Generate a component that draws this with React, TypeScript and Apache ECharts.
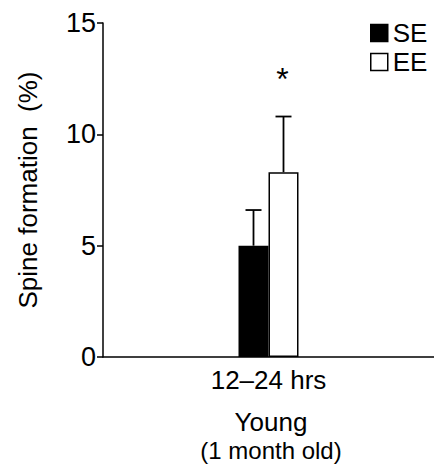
import React, { useEffect, useRef } from "react";
import * as echarts from "echarts";

const categories = ["12–24 hrs"];
const seriesNames = ["SE", "EE"];
const seValues = [5.0];
const eeValues = [8.3];
const seErrors = [6.6];
const eeErrors = [10.8];
const yTicks = [0, 5, 10, 15];
const significance = ["*"];
const groupLabel = "Young";
const groupSubLabel = "(1 month old)";

const FONT = "Liberation Sans, Arial, Helvetica, sans-serif";

export default function App() {
  const ref = useRef<HTMLDivElement>(null);
  useEffect(() => {
    document.body.style.margin = "0";
    const chart = echarts.init(ref.current!, null, { renderer: "svg" });
    const barW = 30;
    const errData = categories.map((c, i) => [i, seValues[i], seErrors[i], eeValues[i], eeErrors[i]]);
    chart.setOption({
      animation: false,
      backgroundColor: "#fff",
      textStyle: { fontFamily: FONT },
      grid: { left: 103, right: -5, top: 23, bottom: 107 },
      legend: {
        orient: "vertical",
        left: 370,
        top: 20,
        padding: 0,
        itemWidth: 17,
        itemHeight: 17,
        itemGap: 3,
        icon: "rect",
        textStyle: { fontSize: 26, color: "#000", fontFamily: FONT },
        data: [
          { name: seriesNames[0], itemStyle: { color: "#000", borderColor: "#000", borderWidth: 1.5 } },
          { name: seriesNames[1], itemStyle: { color: "#fff", borderColor: "#000", borderWidth: 1.5 } },
        ],
      },
      xAxis: {
        type: "category",
        data: categories,
        axisLine: { lineStyle: { color: "#000", width: 1.5 } },
        axisTick: { show: false },
        axisLabel: { color: "#000", fontSize: 26, margin: 10, fontFamily: FONT },
      },
      yAxis: {
        type: "value",
        min: 0,
        max: 15,
        interval: 5,
        name: "Spine formation  (%)",
        nameLocation: "middle",
        nameGap: 62,
        nameTextStyle: { color: "#000", fontSize: 26, fontFamily: FONT },
        splitLine: { show: false },
        axisLine: { show: true, lineStyle: { color: "#000", width: 1.5 } },
        axisTick: { show: true, length: 6, lineStyle: { color: "#000", width: 1.5 } },
        axisLabel: {
          color: "#000",
          fontSize: 27,
          margin: 7,
          fontFamily: FONT,
          formatter: (v: number) => (yTicks.includes(v) ? String(v) : ""),
        },
      },
      series: [
        {
          name: seriesNames[0],
          type: "bar",
          data: seValues,
          barWidth: barW,
          barGap: "0%",
          itemStyle: { color: "#000", borderColor: "#000", borderWidth: 1.5 },
        },
        {
          name: seriesNames[1],
          type: "bar",
          data: eeValues,
          barWidth: barW,
          barGap: "0%",
          itemStyle: { color: "#fff", borderColor: "#000", borderWidth: 1.5 },
        },
        {
          type: "custom",
          silent: true,
          z: 1,
          data: errData,
          renderItem: (params: any, api: any) => {
            const idx = api.value(0);
            const center = api.coord([idx, 0]);
            const seTop = api.coord([idx, api.value(1)]);
            const seErr = api.coord([idx, api.value(2)]);
            const eeTop = api.coord([idx, api.value(3)]);
            const eeErr = api.coord([idx, api.value(4)]);
            const xs = center[0] - barW / 2;
            const xe = center[0] + barW / 2;
            const cap = 8;
            const ls = { stroke: "#000", lineWidth: 1.8 };
            return {
              type: "group",
              children: [
                { type: "line", shape: { x1: xs, y1: seTop[1], x2: xs, y2: seErr[1] }, style: ls },
                { type: "line", shape: { x1: xs - cap, y1: seErr[1], x2: xs + cap, y2: seErr[1] }, style: ls },
                { type: "line", shape: { x1: xe, y1: eeTop[1], x2: xe, y2: eeErr[1] }, style: ls },
                { type: "line", shape: { x1: xe - cap, y1: eeErr[1], x2: xe + cap, y2: eeErr[1] }, style: ls },
                {
                  type: "text",
                  x: xe - 1,
                  y: eeErr[1] - 38,
                  style: {
                    text: significance[params.dataIndex],
                    fontSize: 32,
                    fontFamily: FONT,
                    fill: "#000",
                    align: "center",
                    verticalAlign: "middle",
                  },
                },
              ],
            };
          },
        },
      ],
      graphic: [
        {
          type: "text",
          x: 271,
          y: 422,
          style: { text: groupLabel, fontSize: 26, fontFamily: FONT, fill: "#000", align: "center", verticalAlign: "middle" },
        },
        {
          type: "text",
          x: 271,
          y: 450,
          style: { text: groupSubLabel, fontSize: 24, fontFamily: FONT, fill: "#000", align: "center", verticalAlign: "middle" },
        },
      ],
    });
    return () => chart.dispose();
  }, []);
  return <div ref={ref} style={{ width: 434, height: 464 }} />;
}
